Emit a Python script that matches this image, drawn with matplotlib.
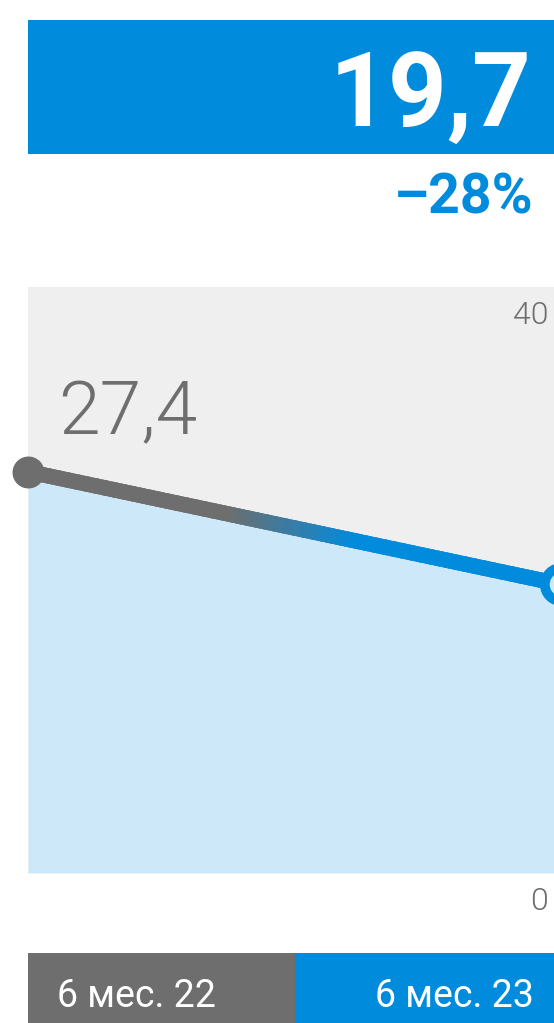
import numpy as np
import matplotlib.pyplot as plt
from matplotlib.patches import Rectangle
from matplotlib.collections import LineCollection
from matplotlib.colors import LinearSegmentedColormap
import matplotlib.transforms as mtrans

plt.rcParams['font.family'] = ['Roboto', 'DejaVu Sans']

# data
periods = ['6 мес. 22', '6 мес. 23']
values = [27.4, 19.7]
change_label = '–28%'
y_ticks = [0, 40]

BLUE = '#008bdd'
GRAY = '#6e6e6e'
BG = '#efefef'
FILL = '#cde8f8'

W, H = 554, 1023


def fx(x):
    return x / W


def fy(y):
    return 1 - y / H


fig = plt.figure(figsize=(W / 100, H / 100), dpi=100)

# header block with the latest value
fig.add_artist(Rectangle((fx(28), fy(154)), 1 - fx(28), (154 - 20) / H,
                         transform=fig.transFigure, color=BLUE, lw=0))
fig.text(fx(532), fy(126), f'{values[-1]:.1f}'.replace('.', ','),
         color='white', fontsize=74, fontweight='bold', ha='right', va='baseline')
fig.text(fx(534), fy(213), change_label, color=BLUE, fontsize=40,
         fontweight='bold', ha='right', va='baseline')

# chart area
ax = fig.add_axes([fx(28), fy(873), (561 - 28) / W, (873 - 287) / H])
ax.set_facecolor(BG)
ax.set_xlim(0, 1)
ax.set_ylim(y_ticks[0], y_ticks[-1])
for s in ax.spines.values():
    s.set_visible(False)
ax.set_xticks([])
ax.set_yticks([])

x = np.arange(len(values))
ax.fill_between(x, values, 0, color=FILL, lw=0, zorder=1)

# line with gray -> blue colour transition
cmap = LinearSegmentedColormap.from_list(
    'gb', [(0, GRAY), (0.38, GRAY), (0.62, BLUE), (1, BLUE)])
t = np.linspace(0, 1, 60)
xs = x[0] + (x[1] - x[0]) * t
ys = values[0] + (values[1] - values[0]) * t
pts = np.column_stack([xs, ys]).reshape(-1, 1, 2)
segs = np.concatenate([pts[:-1], pts[1:]], axis=1)
lc = LineCollection(segs, colors=cmap(t[:-1]), linewidths=11,
                    capstyle='projecting', zorder=3)
ax.add_collection(lc)

ax.plot(x[0], values[0], 'o', ms=22, color=GRAY, clip_on=False, zorder=4)
ax.plot(x[1], values[1], 'o', ms=24, mfc=FILL, mec=BLUE, mew=7, clip_on=False, zorder=4)

ax.annotate(f'{values[0]:.1f}'.replace('.', ','), (x[0], values[0]),
            xytext=(22, 27), textcoords='offset points', color=GRAY,
            fontsize=54, fontweight=300, ha='left', va='baseline')

# y labels
tr = mtrans.blended_transform_factory(fig.transFigure, ax.transData)
for v in y_ticks:
    ax.annotate(str(v), (fx(548), v), xycoords=tr, xytext=(0, -10),
                textcoords='offset points', color=GRAY, fontsize=23,
                fontweight=300, ha='right', va='top', annotation_clip=False)

# period bar
fig.add_artist(Rectangle((fx(28), 0), fx(295) - fx(28), 70 / H,
                         transform=fig.transFigure, color=GRAY, lw=0))
fig.add_artist(Rectangle((fx(295), 0), 1 - fx(295), 70 / H,
                         transform=fig.transFigure, color=BLUE, lw=0))
fig.text(fx(57), fy(1007), periods[0], color='white', fontsize=27,
         ha='left', va='baseline')
fig.text(fx(534), fy(1007), periods[1], color='white', fontsize=27,
         ha='right', va='baseline')

fig.savefig('out.png', dpi=100, facecolor='white')
